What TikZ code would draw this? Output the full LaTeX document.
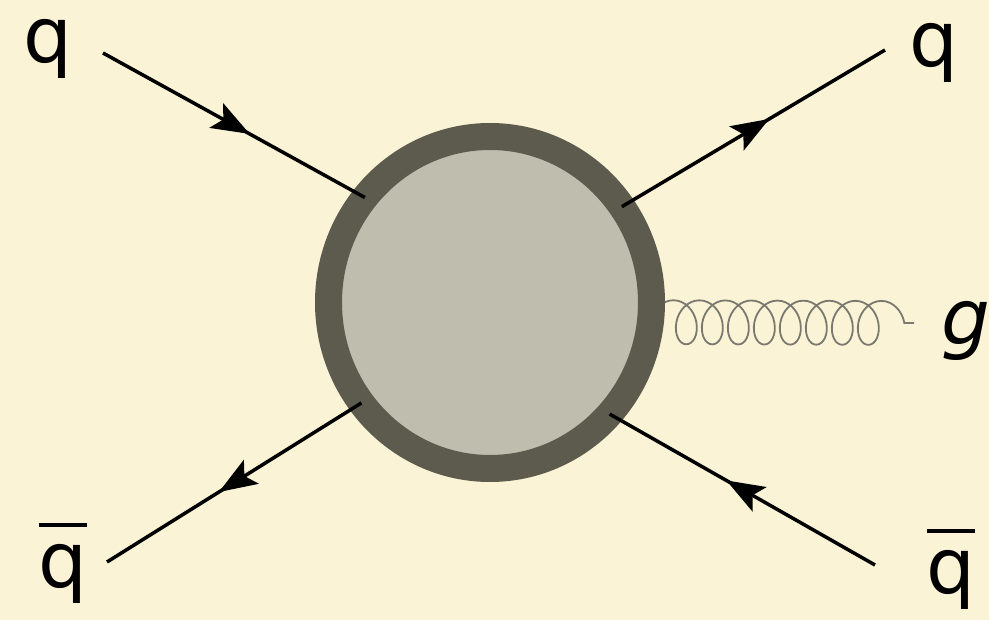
\documentclass[tikz,border=0pt]{standalone}
\usepackage{fontspec}
\setmainfont{DejaVu Sans}
\usetikzlibrary{shapes.geometric,decorations.pathmorphing,decorations.markings,arrows.meta,backgrounds}
\definecolor{bgcol}{HTML}{FBF3D6}
\definecolor{ringcol}{HTML}{5C5B4D}
\definecolor{blobcol}{HTML}{BFBDAD}
\definecolor{gluoncol}{HTML}{7A796F}
\newcommand{\qbarsym}{\vbox{\hrule height 4.5pt\kern17pt\hbox{q}}}
\begin{document}
\begin{tikzpicture}[x=1pt,y=-1pt,
  fermion/.style={line width=3.5pt, draw=black, postaction={decorate},
    decoration={markings, mark=at position 0.56 with {\arrow{Stealth[length=38pt,width=28pt,inset=8pt]}}}},
  lbl/.style={inner sep=0pt, font=\fontsize{77}{77}\selectfont},
  gluon/.style={draw=gluoncol, line width=1.8pt, decorate,
    decoration={coil, amplitude=22pt, segment length=26pt, aspect=0.75}},
  blobstyle/.style={ellipse, draw=ringcol, fill=blobcol, line width=27pt,
    minimum width=323pt, minimum height=332pt, inner sep=0pt, outer sep=0pt}]
\useasboundingbox (0,0) rectangle (989,620);
\node[blobstyle] (blob) at (490,302.5) {};
\node[lbl] (q1) at (47.5,49) {q};
\node[lbl] (q2) at (934,52.5) {q};
\node[lbl] (qb1) at (63,563) {\qbarsym};
\node[lbl] (qb2) at (951,569) {\qbarsym};
\node[lbl] (g) at (966,331) {\itshape g};
\coordinate (qin) at (103,53);
\coordinate (qout) at (885,50);
\coordinate (qbout) at (107,562);
\coordinate (qbin) at (875,565);
\coordinate (gend) at (914,323);
\begin{scope}[on background layer]
  \fill[bgcol] (0,0) rectangle (989,620);
  \draw[gluon] (blob.-7) -- (gend);
\end{scope}
\draw[fermion] (qin) -- (blob.140.6);
\draw[fermion] (blob.36) -- (qout);
\draw[fermion] (blob.218.4) -- (qbout);
\draw[fermion] (qbin) -- (blob.317.9);
\end{tikzpicture}
\end{document}
